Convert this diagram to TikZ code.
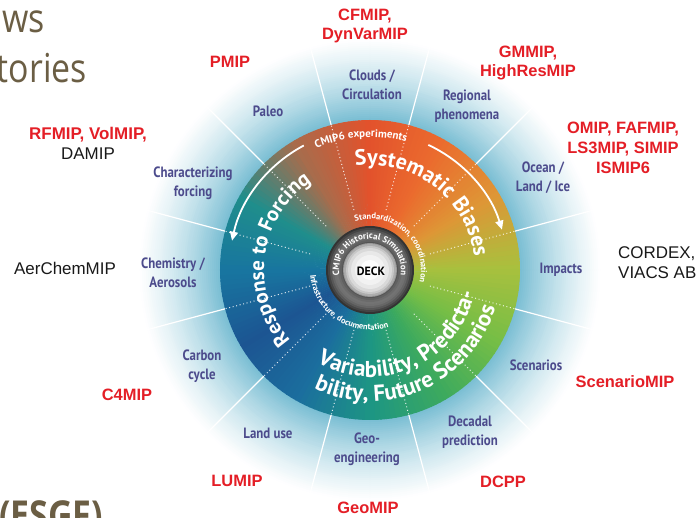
\documentclass[tikz,border=0pt]{standalone}
\usepackage{fontspec}
\usetikzlibrary{decorations.text,arrows.meta}
\newfontfamily\ptsans{PT Sans}
\newfontfamily\ptcond{PT Sans}[FakeStretch=0.86]
\newfontfamily\arialf{Liberation Sans}
\newfontfamily\osans{Open Sans}[FakeStretch=0.85]
\definecolor{labred}{RGB}{228,30,38}
\definecolor{labblue}{RGB}{76,75,140}
\definecolor{browncol}{RGB}{107,94,68}
\definecolor{haloA}{RGB}{118,188,210}
\definecolor{colA}{HTML}{A9C03E}
\definecolor{colB}{HTML}{DE9636}
\definecolor{colC}{HTML}{EB6B2E}
\definecolor{colD}{HTML}{E2522C}
\definecolor{colE}{HTML}{A86C4C}
\definecolor{colF}{HTML}{1F8E8C}
\definecolor{colG}{HTML}{1875A0}
\definecolor{colH}{HTML}{1C5592}
\definecolor{colI}{HTML}{1B6E9E}
\definecolor{colJ}{HTML}{1D9683}
\definecolor{colK}{HTML}{3DAA5E}
\definecolor{colL}{HTML}{76BE46}
\newcommand\bigdisc{\ptsans\bfseries\fontsize{22}{22}\selectfont}
\newcommand\respdisc{\ptsans\bfseries\fontsize{21}{21}\selectfont}
\newcommand\vardisc{\ptsans\bfseries\fontsize{23}{23}\selectfont}
\newcommand\middisc{\ptsans\bfseries\fontsize{11}{12}\selectfont}
\newcommand\smalldisc{\ptsans\bfseries\fontsize{8.5}{9}\selectfont}
\newcommand\ringdisc{\ptsans\bfseries\fontsize{9}{10}\selectfont}
\begin{document}
\begin{tikzpicture}[x=1bp,y=1bp,
  redlab/.style={text=labred, font=\arialf\bfseries\fontsize{16.5}{20}\selectfont, align=center, inner sep=0pt},
  blklab/.style={text=black!90, font=\arialf\fontsize{17}{20}\selectfont, align=center, inner sep=0pt},
  seclab/.style={text=labblue, font=\ptcond\bfseries\fontsize{15}{19}\selectfont, align=center, inner sep=0pt},
  slidetext/.style={text=browncol, font=\osans\fontsize{40}{48}\selectfont, inner sep=0pt},
  arctext/.style={decorate, decoration={text along path, text align=center, text color=white}},
  halodiv/.style={white, line width=1.2bp},
  discdiv/.style={white, line width=1bp, dash pattern=on 1bp off 2.6bp, opacity=0.85},
  cyclearrow/.style={white, line width=1.8bp, -{Triangle[length=9bp,width=8bp]}}
]
\useasboundingbox (-370,-248) rectangle (330,270);
\clip (-370,-248) rectangle (330,270);
\fill[white] (-370,-248) rectangle (330,270);
% halo
\foreach \r in {232,230,...,150}{
  \pgfmathsetmacro\t{(\r-150)/82}
  \pgfmathtruncatemacro\p{100*(1-\t)*(1-0.35*\t)}
  \fill[fill=haloA!\p!white] (0,0) circle[radius=\r bp];
}
\foreach \a in {15,45,...,345}{
  \draw[halodiv] (\a:150) -- (\a:232);
}
% coloured disc
\foreach \sa/\ca/\cb in {0/colA/colB,30/colB/colC,60/colC/colD,90/colD/colE,120/colE/colF,150/colF/colG,180/colG/colH,210/colH/colI,240/colI/colJ,270/colJ/colK,300/colK/colL,330/colL/colA}{
  \foreach \k in {0,...,14}{
    \pgfmathtruncatemacro\p{100-\k*100/15}
    \pgfmathsetmacro\a{\sa+2*\k}
    \pgfmathsetmacro\b{\a+2.4}
    \fill[fill=\ca!\p!\cb] (0,0) -- (\a:150) arc[start angle=\a, end angle=\b, radius=150bp] -- cycle;
  }
}
\foreach \a in {15,45,...,345}{
  \draw[discdiv] (\a:62) -- (\a:150);
}
% texts on disc
\path[arctext, decoration={text={|\middisc|CMIP6 experiments}}] (128:133) arc[start angle=128, end angle=60, radius=133bp];
\path[arctext, decoration={text={|\bigdisc|Systematic Biases}}] (120:105) arc[start angle=120, end angle=-15, radius=105bp];
\path[arctext, decoration={text={|\respdisc|Response to Forcing}}] (240:106) arc[start angle=240, end angle=105, radius=106bp];
\path[arctext, decoration={text={|\vardisc|Variability, Predicta-}}] (225:107) arc[start angle=225, end angle=363, radius=107bp];
\path[arctext, decoration={text={|\vardisc|bility, Future Scenarios}}] (226:131) arc[start angle=226, end angle=362, radius=131bp];
\path[arctext, decoration={text={|\smalldisc|Standardization, coordination}}] (120:51) arc[start angle=120, end angle=-27, radius=51bp];
\path[arctext, decoration={text={|\smalldisc|Infrastructure, documentation}}] (170:60) arc[start angle=170, end angle=303, radius=60bp];
% arrows
\draw[cyclearrow] (65:138) arc[start angle=65, end angle=17, radius=138bp];
\draw[cyclearrow] (118:141) arc[start angle=118, end angle=168, radius=141bp];
% central rings
\foreach \r/\g in {44/80,42/73,40/66,38/60,36/56,34/55,32/58,30/62,28/67,27/40,26/32,24/22,22/15,19/9,15/5,10/1}{
  \fill[fill=black!\g] (0,0) circle[radius=\r bp];
}
\path[arctext, decoration={text={|\ringdisc|CMIP6 Historical Simulation}}] (200:31) arc[start angle=200, end angle=-20, radius=31bp];
\node[font=\ptsans\bfseries\fontsize{12}{13}\selectfont, text=black, inner sep=0pt] (deck) at (1,-1) {DECK};
% sector labels
\node[seclab] (clouds) at (2,185) {Clouds /\\Circulation};
\node[seclab] (regional) at (97,164) {Regional\\phenomena};
\node[seclab] (ocean) at (173,92) {Ocean /\\Land / Ice};
\node[seclab] (impacts) at (191,0) {Impacts};
\node[seclab] (scen) at (166,-95) {Scenarios};
\node[seclab] (decadal) at (100,-162) {Decadal\\prediction};
\node[seclab] (geoeng) at (-3,-179) {Geo-\\engineering};
\node[seclab] (landuse) at (-102,-163) {Land use};
\node[seclab] (carbon) at (-168,-96) {Carbon\\cycle};
\node[seclab] (chem) at (-197,-3) {Chemistry /\\Aerosols};
\node[seclab] (charf) at (-177,87) {Characterizing\\forcing};
\node[seclab] (paleo) at (-102,159) {Paleo};
% MIP labels
\node[redlab] (cfmip) at (-5,244) {CFMIP,\\DynVarMIP};
\node[redlab] (pmip) at (-140,208) {PMIP};
\node[redlab] (gmmip) at (158,207) {GMMIP,\\HighResMIP};
\node[redlab] (omip) at (253,122) {OMIP, FAFMIP,\\LS3MIP, SIMIP\\ISMIP6};
\node[blklab, align=left, anchor=west] (cordex) at (248,7.5) {CORDEX,\\VIACS AB};
\node[redlab] (scenmip) at (255,-112) {ScenarioMIP};
\node[redlab] (dcpp) at (133,-212) {DCPP};
\node[redlab] (geomip) at (-2,-238) {GeoMIP};
\node[redlab] (lumip) at (-133,-211) {LUMIP};
\node[redlab] (c4mip) at (-243,-125) {C4MIP};
\node[blklab] (aerchem) at (-305,2) {AerChemMIP};
\node[blklab] (rfmip) at (-282,127) {\textcolor{labred}{\bfseries RFMIP, VolMIP,}\\DAMIP};
% slide text fragments
\node[slidetext, anchor=base east] (ws) at (-325,237) {ws};
\node[slidetext, anchor=base east] (tories) at (-283,187) {tories};
\node[slidetext, font=\osans\bfseries\fontsize{40}{48}\selectfont, anchor=base west] (esgf) at (-371,-259) {(ESGF)};
\end{tikzpicture}
\end{document}
